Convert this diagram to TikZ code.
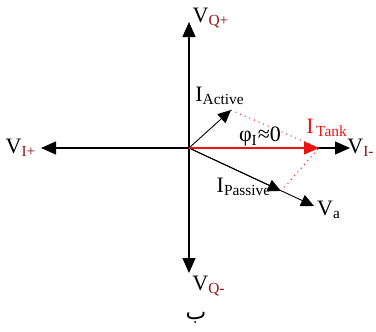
\documentclass[tikz,border=0pt]{standalone}
\usepackage{fontspec}
\setmainfont{Liberation Serif}
\newfontfamily\arabicfont[Script=Arabic]{DejaVu Sans}
\TeXXeTstate=1
\usetikzlibrary{arrows.meta}
\definecolor{subred}{RGB}{140,20,20}
\definecolor{tankred}{RGB}{235,20,20}

\begin{document}
\begin{tikzpicture}[x=0.5pt,y=-0.5pt,
  axis/.style={line width=0.6pt,-{Triangle[length=7.5pt,width=6.5pt]}},
  phasor/.style={line width=0.45pt,-{Triangle[length=6.5pt,width=6pt]}},
  helper/.style={tankred,dotted,line width=0.5pt},
  lbl/.style={inner sep=0pt,font=\fontsize{11}{13}\selectfont}]
  \useasboundingbox (0,0) rectangle (376,332);
  % The origin and the axis ends.
  \coordinate (o) at (189,148);
  \coordinate (qp) at (189,22);
  \coordinate (qm) at (189,273);
  \coordinate (ip) at (41,148);
  \coordinate (im) at (350,148);
  \draw[axis] (o) -- (qp);
  \draw[axis] (o) -- (qm);
  \draw[axis] (o) -- (ip);
  \draw[axis] (o) -- (im);
  % The current phasors.
  \coordinate (act) at (231,110);
  \coordinate (tank) at (319,148);
  \coordinate (pas) at (281,191);
  \coordinate (va) at (314,206);
  \draw[phasor] (o) -- (va);
  \draw[phasor] (o) -- (act);
  \draw[phasor] (o) -- (pas);
  \draw[helper] (act) -- (tank);
  \draw[helper] (pas) -- (tank);
  \draw[phasor,tankred,line width=0.8pt,-{Triangle[length=7.5pt,width=6.5pt]}] (o) -- (tank);
  % The labels.
  \node[lbl] (lqp) at (211,18) {V\textsubscript{\color{subred}Q+}};
  \node[lbl] (lqm) at (209,286) {V\textsubscript{\color{subred}Q-}};
  \node[lbl] (lip) at (21,148) {V\textsubscript{\color{subred}I+}};
  \node[lbl,anchor=east] (lim) at (375,148) {V\textsubscript{\color{subred}I-}};
  \node[lbl] (lact) at (220,96) {I\textsubscript{Active}};
  \node[lbl] (lphi) at (260,137) {φ\textsubscript{I}≈0};
  \node[lbl,tankred] (ltank) at (327,128) {I\textsubscript{\,Tank}};
  \node[lbl] (lpas) at (244,187) {I\textsubscript{Passive}};
  \node[lbl] (lva) at (329,210) {V\textsubscript{a}};
  \node[lbl] (lb) at (196,318) {\arabicfont\beginR ب\endR};
\end{tikzpicture}
\end{document}
